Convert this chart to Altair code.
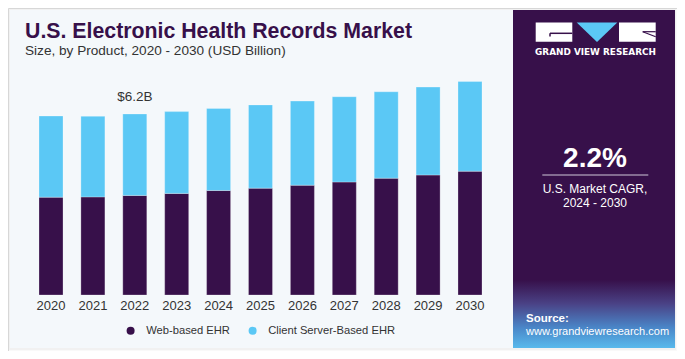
import altair as alt
import pandas as pd

# ---- data ----
years = ["2020", "2021", "2022", "2023", "2024", "2025", "2026", "2027", "2028", "2029", "2030"]
web_based = [3.35, 3.36, 3.41, 3.48, 3.58, 3.66, 3.76, 3.87, 4.00, 4.11, 4.24]
client_server = [2.78, 2.76, 2.79, 2.80, 2.81, 2.85, 2.88, 2.92, 2.96, 3.01, 3.07]
series_names = ["Web-based EHR", "Client Server-Based EHR"]
series_colors = ["#37104a", "#5bc8f5"]
highlight_year = "2022"

title_text = "U.S. Electronic Health Records Market"
subtitle_text = "Size, by Product, 2020 - 2030 (USD Billion)"
cagr_value = "2.2%"
cagr_line1 = "U.S. Market CAGR,"
cagr_line2 = "2024 - 2030"
brand_text = "GRAND VIEW RESEARCH"
source_label = "Source:"
source_url = "www.grandviewresearch.com"

# ---- tables built from the arrays ----
rows = []
for i, yr in enumerate(years):
    rows.append({"year": yr, "series": series_names[0], "value": web_based[i], "ord": 0})
    rows.append({"year": yr, "series": series_names[1], "value": client_server[i], "ord": 1})
df = pd.DataFrame(rows)

totals = pd.DataFrame({"year": years, "total": [w + c for w, c in zip(web_based, client_server)]})
lab = totals[totals["year"] == highlight_year].copy()
lab["label"] = lab["total"].map(lambda v: f"${v:.1f}B")

W, H = 669, 343
PURPLE = "#37104a"
FONT = "Liberation Sans"

xscale = alt.Scale(domain=years, range=[22.05, 482.95], paddingInner=0.427, paddingOuter=0.2136)
yscale = alt.Scale(domain=[0, 8], range=[287, 53.4], nice=False, zero=True)

one = alt.Data(values=[{"a": 1}])


def rect(x, x2, y, y2, color, opacity=1.0):
    return alt.Chart(one).mark_rect(color=color, opacity=opacity).encode(
        x=alt.value(x), x2=alt.value(x2), y=alt.value(y), y2=alt.value(y2))


def rule(x, x2, y, y2, color, width=1.0):
    return alt.Chart(one).mark_rule(color=color, strokeWidth=width).encode(
        x=alt.value(x), x2=alt.value(x2), y=alt.value(y), y2=alt.value(y2))


def text(t, x, y, size, color, weight="normal", align="left", font=FONT):
    return alt.Chart(one).mark_text(
        text=t, align=align, baseline="alphabetic", font=font, fontSize=size,
        fontWeight=weight, color=color).encode(x=alt.value(x), y=alt.value(y))


layers = [
    # card shadow
    rect(0, W, 0, H, "#000000", 0.025),
    rect(1, W - 1, 1, H - 1, "#000000", 0.03),
    # left panel
    rect(2, 505, 2, 340, "#f4f8fb"),
    # right panel
    rect(505, 667, 2, 340, PURPLE),
    alt.Chart(one).mark_rect(
        color=alt.LinearGradient(
            gradient="linear", x1=0, y1=0, x2=0, y2=1,
            stops=[alt.GradientStop(offset=0, color=PURPLE),
                   alt.GradientStop(offset=0.35, color="#4a4286"),
                   alt.GradientStop(offset=0.7, color="#4a86c8"),
                   alt.GradientStop(offset=1, color="#58b9ec")])
    ).encode(x=alt.value(505), x2=alt.value(667), y=alt.value(272), y2=alt.value(340)),
    # logo
    rect(527.7, 564.3, 14.5, 33.7, "#ffffff"),
    rect(611, 647.7, 14.5, 33.7, "#ffffff"),
    rule(542, 564.3, 25.3, 25.3, PURPLE, 1.5),
    rule(542, 542, 25.3, 28.5, PURPLE, 1.5),
    rule(634.7, 647.7, 23.7, 23.7, PURPLE, 1.2),
    rule(634.7, 647.7, 23.7, 28.7, PURPLE, 1.2),
    alt.Chart(one).mark_point(
        shape="M-1,-0.48L1,-0.48L0,0.48Z", size=1648, filled=True,
        color="#5bc8f5", opacity=1, strokeWidth=0
    ).encode(x=alt.value(589), y=alt.value(24.2)),
    text(brand_text, 587.5, 47, 8.9, "#ffffff", "bold", "center", "DejaVu Sans"),
    # CAGR block
    text(cagr_value, 587, 158.7, 28, "#ffffff", "bold", "center"),
    rule(534.3, 640.3, 167, 167, "#d0c8d8", 1.2),
    text(cagr_line1, 587, 184.7, 12, "#ffffff", "normal", "center"),
    text(cagr_line2, 587, 198.7, 12, "#ffffff", "normal", "center"),
    # source
    text(source_label, 518, 314, 11.5, "#ffffff", "bold"),
    text(source_url, 518, 327, 11, "#ffffff"),
    # titles
    text(title_text, 17, 29.7, 21.3, PURPLE, "bold"),
    text(subtitle_text, 17, 46.5, 13.6, "#333333"),
]

bars = alt.Chart(df).mark_bar(stroke="#ffffff", strokeWidth=0.6, strokeOpacity=0.45).encode(
    x=alt.X("year:O", scale=xscale, sort=years,
            axis=alt.Axis(title=None, labelAngle=0, domain=False, ticks=False, grid=False,
                          labelFontSize=13, labelColor="#333333", labelFont=FONT,
                          labelPadding=4, offset=-56, zindex=2)),
    y=alt.Y("value:Q", stack="zero", scale=yscale, axis=None),
    color=alt.Color("series:N", scale=alt.Scale(domain=series_names, range=series_colors),
                    legend=alt.Legend(orient="none", legendX=117, legendY=317,
                                      direction="horizontal", title=None,
                                      symbolType="circle", symbolSize=64,
                                      symbolStrokeWidth=0, labelFontSize=11.2,
                                      labelFont=FONT, labelColor="#333333",
                                      labelOffset=10, columnPadding=17, padding=0,
                                      zindex=2)),
    order=alt.Order("ord:Q", sort="ascending"),
)

label = alt.Chart(lab).mark_text(
    baseline="alphabetic", align="center", dy=-13, fontSize=13.5, font=FONT, color="#333333"
).encode(
    x=alt.X("year:O", scale=xscale, sort=years),
    y=alt.Y("total:Q", scale=yscale, axis=None),
    text="label:N",
)

chart = alt.layer(*layers, bars, label).properties(
    width=W, height=H, padding=0, autosize=alt.AutoSizeParams(type="none")
).configure_view(stroke=None).configure(background="#ffffff")

chart.save("out.html", embed_options={"renderer": "svg", "actions": False})
